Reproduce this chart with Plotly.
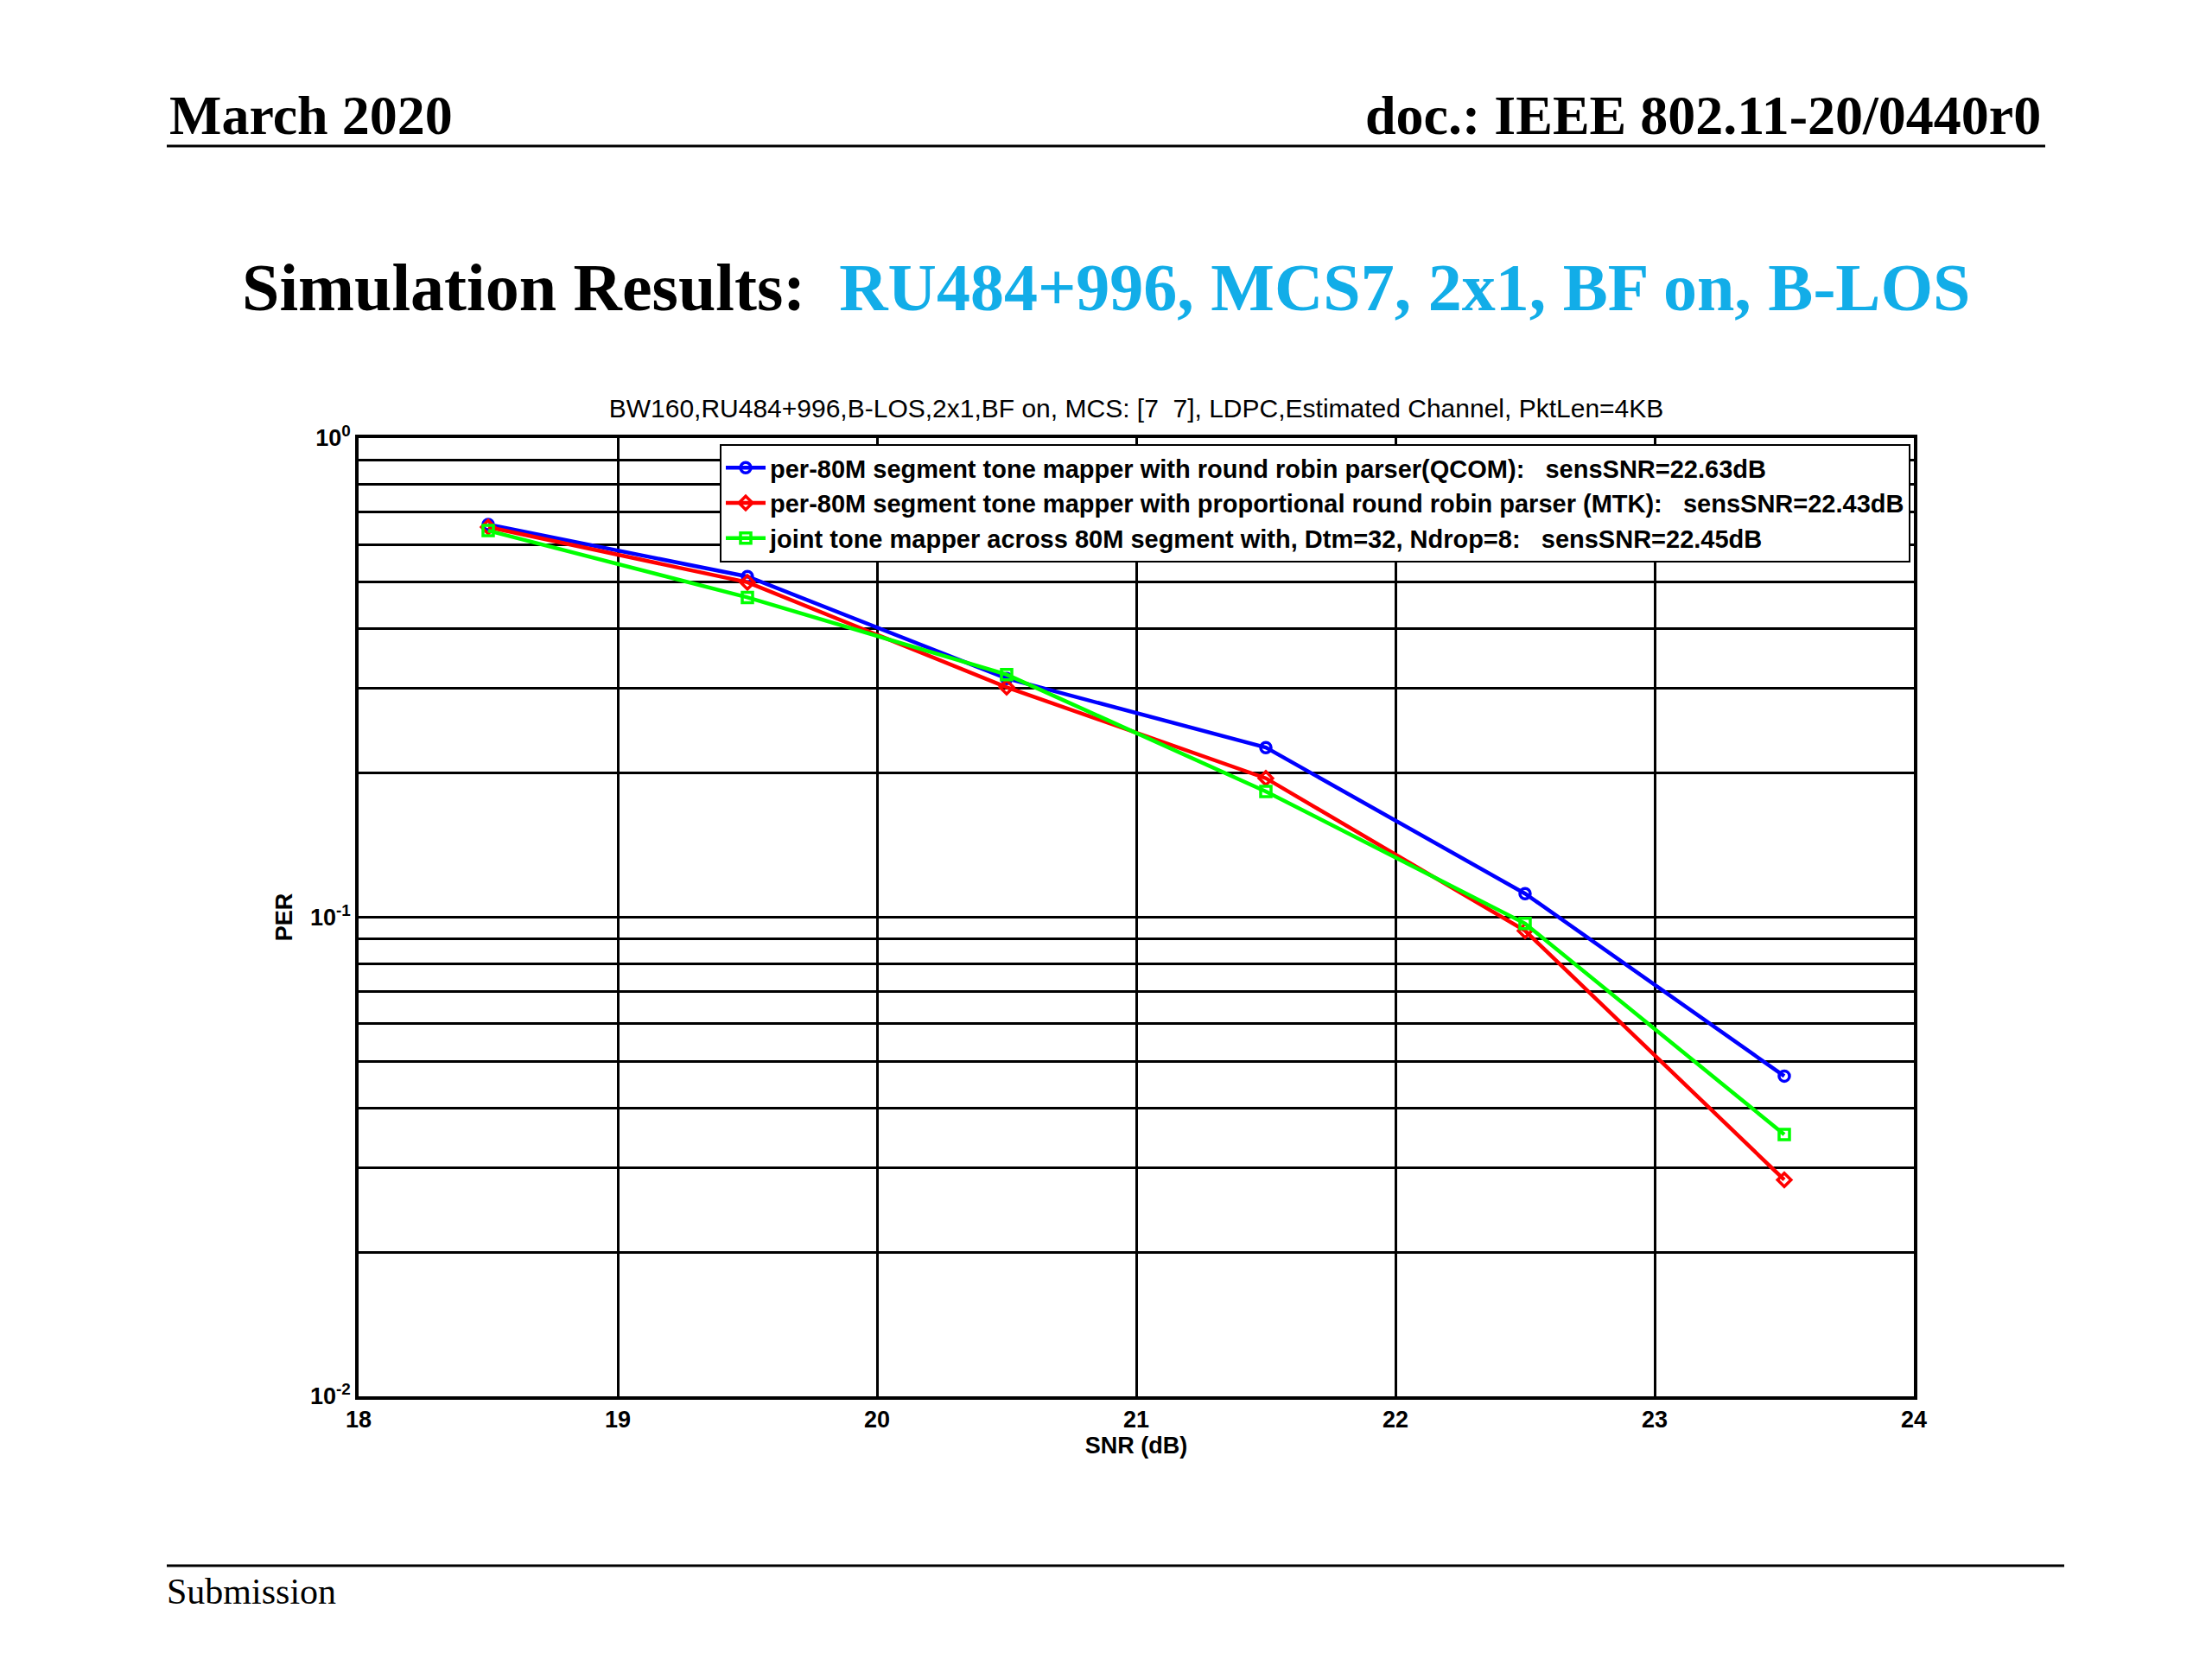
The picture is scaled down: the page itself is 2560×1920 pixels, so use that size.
import plotly.graph_objects as go

# ---------------- data ----------------
snr_db = [18.5, 19.5, 20.5, 21.5, 22.5, 23.5]
per_qcom = [0.660, 0.514, 0.315, 0.226, 0.112, 0.0466]
per_mtk = [0.652, 0.500, 0.302, 0.195, 0.0937, 0.0283]
per_joint = [0.641, 0.465, 0.321, 0.183, 0.097, 0.0352]

series_names = [
    "per-80M segment tone mapper with round robin parser(QCOM):\u00a0\u00a0\u00a0sensSNR=22.63dB",
    "per-80M segment tone mapper with proportional round robin parser (MTK):\u00a0\u00a0\u00a0sensSNR=22.43dB",
    "joint tone mapper across 80M segment with, Dtm=32, Ndrop=8:\u00a0\u00a0\u00a0sensSNR=22.45dB",
]
series_colors = ["#0000FF", "#FF0000", "#00FF00"]
series_symbols = ["circle-open", "diamond-open", "square-open"]

x_ticks = [18, 19, 20, 21, 22, 23, 24]
y_major = [0.01, 0.1, 1]
y_major_text = ["10<sup>-2</sup>", "10<sup>-1</sup>", "10<sup>0</sup>"]
y_minor = [0.02, 0.03, 0.04, 0.05, 0.06, 0.07, 0.08, 0.09,
           0.2, 0.3, 0.4, 0.5, 0.6, 0.7, 0.8, 0.9]

chart_title = "BW160,RU484+996,B-LOS,2x1,BF on, MCS: [7\u00a0\u00a07], LDPC,Estimated Channel, PktLen=4KB"

# ---------------- layout geometry ----------------
W, H = 2560, 1920
L, R, T, B = 415, 2215, 507, 1616


def px2x(px):
    return (px - L) / (R - L)


def px2y(py):
    return (B - py) / (B - T)


SANS = "Liberation Sans, Arial, Helvetica, sans-serif"
SERIF = "Liberation Serif, Times New Roman, serif"

fig = go.Figure()
for vals, name, col, sym in zip([per_qcom, per_mtk, per_joint], series_names,
                                series_colors, series_symbols):
    fig.add_trace(go.Scatter(
        x=snr_db, y=vals, name=name, mode="lines+markers",
        line=dict(color=col, width=4.5),
        marker=dict(symbol=sym, size=12, color=col, line=dict(color=col, width=3.5)),
    ))

fig.update_layout(
    width=W, height=H,
    margin=dict(l=L, r=W - R, t=T, b=H - B),
    paper_bgcolor="white", plot_bgcolor="white",
    font=dict(family=SANS, size=27, color="black"),
    title=dict(text=chart_title, x=px2x((L + R) / 2), xref="paper", xanchor="center",
               y=1 - 472 / H, yref="container", yanchor="middle",
               font=dict(family=SANS, size=30, color="black")),
    legend=dict(x=px2x(2211), y=px2y(514), xanchor="right", yanchor="top",
                bgcolor="white", bordercolor="black", borderwidth=2,
                font=dict(family=SANS, size=29, color="black", weight="bold"),
                itemwidth=46, tracegroupgap=0),
    showlegend=True,
)

fig.update_xaxes(
    range=[18, 24], tickvals=x_ticks, ticktext=[str(v) for v in x_ticks],
    showgrid=True, gridcolor="black", gridwidth=2.5,
    showline=True, linecolor="black", linewidth=3.5, mirror="ticks",
    ticks="inside", ticklen=12, tickwidth=2, tickcolor="black",
    tickfont=dict(family=SANS, size=27, weight="bold"),
    zeroline=False,
    title=dict(text="SNR (dB)", standoff=0, font=dict(family=SANS, size=27, weight="bold")),
)
fig.update_yaxes(
    type="log", range=[-2, 0], tickvals=y_major, ticktext=y_major_text,
    showgrid=True, gridcolor="black", gridwidth=2.5,
    minor=dict(tickvals=y_minor, showgrid=True, gridcolor="black", gridwidth=2.5,
               ticks="inside", ticklen=7, tickcolor="black"),
    showline=True, linecolor="black", linewidth=3.5, mirror="ticks",
    ticks="inside", ticklen=12, tickwidth=2, tickcolor="black",
    tickfont=dict(family=SANS, size=27, weight="bold"),
    zeroline=False,
    title=dict(text="PER", standoff=14, font=dict(family=SANS, size=27, weight="bold")),
)

# ---------------- slide decorations ----------------
annotations = [
    dict(text="<b>March 2020</b>", x=px2x(194), y=px2y(134), xanchor="left", yanchor="middle",
         font=dict(family=SERIF, size=64, color="black")),
    dict(text="<b>doc.: IEEE 802.11-20/0440r0</b>", x=px2x(2364), y=px2y(134),
         xanchor="right", yanchor="middle",
         font=dict(family=SERIF, size=64, color="black")),
    dict(text="<b>Simulation Results:\u00a0\u00a0<span style='color:#12ADE8'>RU484+996, MCS7, 2x1, BF on, B-LOS</span></b>",
         x=px2x(278), y=px2y(332), xanchor="left", yanchor="middle",
         font=dict(family=SERIF, size=78, color="black")),
    dict(text="Submission", x=px2x(191), y=px2y(1842), xanchor="left", yanchor="middle",
         font=dict(family=SERIF, size=42, color="black")),
]
for a in annotations:
    a.update(xref="paper", yref="paper", showarrow=False)
fig.update_layout(annotations=annotations)

fig.add_shape(type="line", xref="paper", yref="paper",
              x0=px2x(193), x1=px2x(2367), y0=px2y(169), y1=px2y(169),
              line=dict(color="black", width=3))
fig.add_shape(type="line", xref="paper", yref="paper",
              x0=px2x(193), x1=px2x(2389), y0=px2y(1812), y1=px2y(1812),
              line=dict(color="black", width=3))

fig.write_html("out.html", config={"displayModeBar": False},
               post_script="document.body.style.margin='0';")
